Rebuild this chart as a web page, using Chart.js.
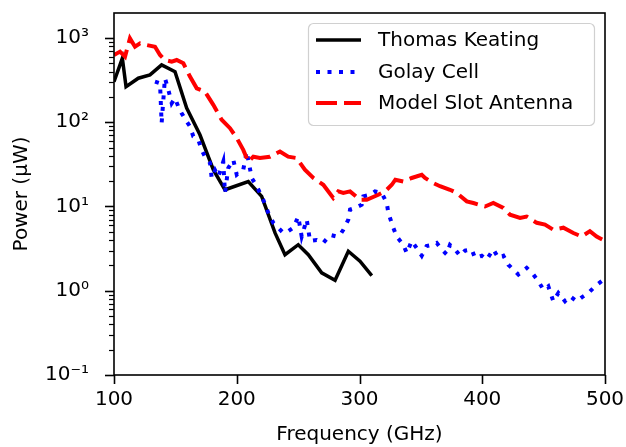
<!DOCTYPE html>
<html>
<head>
<meta charset="utf-8">
<script src="https://cdn.jsdelivr.net/npm/chart.js@4.4.1/dist/chart.umd.min.js"></script>
<style>
  html, body { margin: 0; padding: 0; background: #fff; }
  canvas { display: block; }
</style>
</head>
<body>
<canvas id="powerChart" width="626" height="447"></canvas>
<script>
// values (frequency in GHz, power in uW)
const tkFreq = [100, 106.8, 109.8, 119.8, 129.3, 138.8, 149.7, 159.2, 170, 180.9, 190.4, 209.4, 220.3, 231.2, 239.3, 250.1, 258.3, 269.2, 280.1, 290.9, 300.4, 310];
const tkPower = [303, 574, 265, 333, 365, 479, 398, 147, 71, 27.3, 15.8, 19.8, 13.2, 4.86, 2.68, 3.52, 2.68, 1.63, 1.33, 2.94, 2.24, 1.51];

const golayFreq = [133.4, 137.5, 138.8, 141.5, 144.3, 147, 149.7, 152.4, 155.1, 159.2, 161.9, 164.6, 168.7, 171.4, 174.1, 178.2, 179.6, 182.3, 185, 189,
  190.4, 193.1, 197.2, 200, 205.3, 208.1, 212.2, 216.3, 221.6, 225.7, 229.8, 233.8, 237.9, 242, 246.1, 250.1, 252.9, 257, 259.7, 265.1,
  270.5, 276, 281.4, 284.1, 286.8, 290.9, 292.3, 296.3, 301.8, 303.1, 308.6, 312.6, 318.1, 322.2, 323.5, 327.5, 330.3, 335.7, 338.5, 342.5,
  346.6, 350.7, 354.7, 358.8, 362.9, 366.9, 371, 373.7, 377.8, 381.9, 386, 391.4, 394.1, 399.6, 403.6, 409, 413.1, 417.2, 421.2, 425.3,
  429.4, 436.2, 441.6, 445.7, 449.8, 453.8, 457.9, 462, 467.4, 471.5, 477, 482.3, 486.4, 491.9, 497.3];
const golayPower = [303, 290, 97.5, 333, 242, 168, 193, 153, 128, 102, 89, 68, 62, 47, 39, 33, 21.8, 27, 22.7, 34,
  14.5, 28.6, 35.8, 23.8, 27.3, 45, 21.8, 17.4, 12, 8.4, 6.4, 5.6, 4.85, 5.1, 5.6, 7.6, 4.4, 7, 3.9, 4.0,
  3.7, 4.6, 4.4, 4.6, 5.3, 7.0, 9.2, 9.6, 10.5, 13.2, 13.8, 15.1, 14.5, 11, 8.4, 5.6, 4.4, 3.5, 2.8, 3.9,
  3.2, 2.6, 3.4, 3.5, 3.7, 3.1, 2.7, 3.5, 3.1, 2.6, 3.0, 3.1, 2.45, 2.6, 2.34, 3.1, 2.45, 2.6, 2.04, 1.78,
  1.56, 1.87, 1.56, 1.3, 1.03, 1.13, 0.75, 0.94, 0.75, 0.86, 0.75, 0.86, 0.94, 1.13, 1.3];

const slotFreq = [100, 104.9, 109, 113, 117.1, 121.2, 126.6, 133.4, 137.5, 141.5, 147, 151.1, 156.5, 161.9, 167.4, 174.1, 180.9, 187.7, 194.5, 200,
  205.3, 209.4, 213.5, 218.9, 227, 235.2, 241.9, 248.8, 255.5, 262.4, 270.5, 278.6, 282.7, 286.8, 292.3, 300.4, 305.9, 315.3, 320.8, 326.3,
  329.2, 335.7, 342.5, 350.7, 353.4, 360.1, 365.6, 373.7, 379.2, 387.4, 392.8, 402.3, 409, 417.2, 422.6, 430.8, 436.2, 444.4, 451.1, 457.9,
  466.1, 474.2, 481, 487.7, 493.2, 500];
const slotPower = [629, 689, 601, 990, 789, 865, 826, 789, 629, 548, 523, 548, 501, 348, 253, 231, 161, 107, 85, 65,
  47, 34, 39, 37.6, 39, 45, 39, 37.6, 27.3, 21.8, 18.1, 12.6, 15.1, 14.5, 15.1, 12, 12, 13.8, 15.1, 18.1,
  20.8, 19.8, 21.8, 23.8, 21.8, 19, 17.4, 15.8, 14.5, 11.5, 11, 10, 11, 9.6, 8.0, 7.3, 7.6, 6.4, 6.1, 5.3,
  5.6, 4.85, 4.4, 5.1, 4.4, 3.9];

const xTicks = [100, 200, 300, 400, 500];
const yDecades = [-1, 0, 1, 2, 3];

function toPoints(xs, ys) {
  return xs.map((x, i) => ({ x: x, y: ys[i] }));
}

const sup = { '-': '\u207B', '0': '\u2070', '1': '\u00B9', '2': '\u00B2', '3': '\u00B3' };
function decadeLabel(e) {
  return '10' + String(e).split('').map(c => sup[c]).join('');
}

//stop chart.js from pushing the plot area in for the outer labels
function noScalePadding(scale) {
  scale.paddingTop = 0;
  scale.paddingBottom = 0;
  scale.paddingLeft = 0;
  scale.paddingRight = 0;
}

Chart.defaults.font.family = "'DejaVu Sans', sans-serif";
Chart.defaults.font.size = 20;
Chart.defaults.color = '#000';

//ticks, spines and a matplotlib style legend box
const frameAndLegend = {
  id: 'frameAndLegend',
  afterDraw(chart) {
    const ctx = chart.ctx;
    const area = chart.chartArea;
    const xs = chart.scales.x;
    const ys = chart.scales.y;
    ctx.save();
    ctx.strokeStyle = '#000';

    // x ticks
    ctx.lineWidth = 1.6;
    xTicks.forEach(v => {
      const px = Math.round(xs.getPixelForValue(v)) + 0.5;
      ctx.beginPath();
      ctx.moveTo(px, area.bottom);
      ctx.lineTo(px, area.bottom + 9);
      ctx.stroke();
    });

    // y ticks, major and minor
    yDecades.forEach(e => {
      for (let m = 1; m <= 9; m++) {
        const v = m * Math.pow(10, e);
        if (v < ys.min || v > ys.max) continue;
        const py = Math.round(ys.getPixelForValue(v)) + 0.5;
        ctx.lineWidth = m === 1 ? 1.6 : 1.2;
        ctx.beginPath();
        ctx.moveTo(area.left, py);
        ctx.lineTo(area.left - (m === 1 ? 9 : 5), py);
        ctx.stroke();
      }
    });

    // spines
    ctx.lineWidth = 1.6;
    ctx.strokeRect(area.left, area.top, area.right - area.left, area.bottom - area.top);

    // legend
    const lx = 308, ly = 23, lw = 286, lh = 102;
    ctx.beginPath();
    ctx.roundRect(lx + 0.5, ly + 0.5, lw, lh, 5);
    ctx.fillStyle = 'rgba(255,255,255,0.8)';
    ctx.fill();
    ctx.strokeStyle = '#d0d0d0';
    ctx.lineWidth = 1.2;
    ctx.stroke();

    const rows = [40, 72, 103];
    chart.data.datasets.forEach((ds, i) => {
      const y = rows[i];
      ctx.save();
      ctx.strokeStyle = ds.borderColor;
      ctx.lineWidth = ds.borderWidth;
      ctx.setLineDash(ds.borderDash || []);
      ctx.beginPath();
      ctx.moveTo(316, y);
      ctx.lineTo(361, y);
      ctx.stroke();
      ctx.restore();
      ctx.fillStyle = '#000';
      ctx.font = "20px 'DejaVu Sans', sans-serif";
      ctx.textBaseline = 'middle';
      ctx.textAlign = 'left';
      ctx.fillText(ds.label, 378, y + 1);
    });
    ctx.restore();
  }
};

const ctxPower = document.getElementById('powerChart').getContext('2d');
new Chart(ctxPower, {
  type: 'line',
  data: {
    datasets: [{
      label: 'Thomas Keating',
      data: toPoints(tkFreq, tkPower),
      borderColor: '#000000',
      borderWidth: 3.5,
      pointRadius: 0,
      tension: 0,
      order: 3
    }, {
      label: 'Golay Cell',
      data: toPoints(golayFreq, golayPower),
      borderColor: '#0000ff',
      borderWidth: 4,
      borderDash: [4, 7.5],
      pointRadius: 0,
      tension: 0,
      order: 2
    }, {
      label: 'Model Slot Antenna',
      data: toPoints(slotFreq, slotPower),
      borderColor: '#ff0000',
      borderWidth: 4,
      borderDash: [21, 7],
      pointRadius: 0,
      tension: 0,
      order: 1
    }]
  },
  options: {
    responsive: false,
    animation: false,
    devicePixelRatio: 1,
    layout: { padding: { top: 13, right: 21, left: 0, bottom: 0 } },
    plugins: {
      legend: { display: false },
      tooltip: { enabled: false }
    },
    scales: {
      x: {
        type: 'linear',
        min: 100,
        max: 500,
        grid: { display: false, drawTicks: false },
        border: { display: false },
        ticks: { stepSize: 100, padding: 13, font: { size: 20, lineHeight: 1.2 } },
        title: { display: true, text: 'Frequency (GHz)', font: { size: 20, lineHeight: 1.2 }, padding: { top: 0, bottom: 0 } },
        afterFit(scale) { scale.height = 72; noScalePadding(scale); }
      },
      y: {
        type: 'logarithmic',
        min: 0.1,
        max: 1980,
        grid: { display: false, drawTicks: false },
        border: { display: false },
        ticks: {
          autoSkip: false,
          padding: 25,
          font: { size: 20, lineHeight: 1.2 },
          callback: function(value) {
            const e = Math.log10(value);
            if (Math.abs(e - Math.round(e)) < 1e-6) return decadeLabel(Math.round(e));
            return '';
          }
        },
        title: { display: true, text: 'Power (\u03BCW)', font: { size: 20, lineHeight: 1.2 }, padding: { top: 10, bottom: 0 } },
        afterFit(scale) { scale.width = 114; noScalePadding(scale); }
      }
    }
  },
  plugins: [frameAndLegend]
});
</script>
</body>
</html>
